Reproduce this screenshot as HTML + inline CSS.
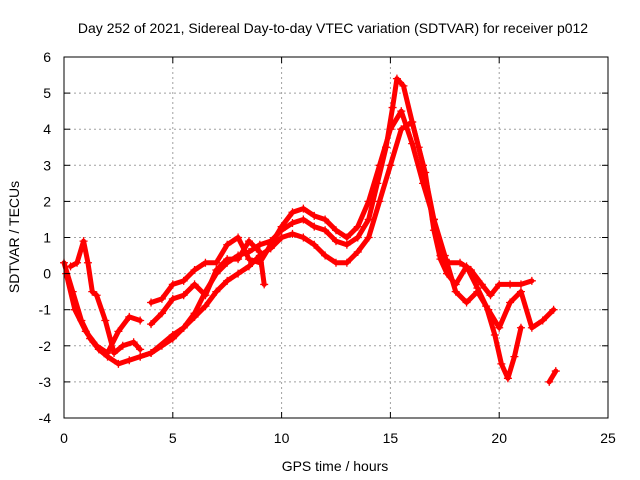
<!DOCTYPE html>
<html><head><meta charset="utf-8"><style>
body{margin:0;background:#fff;}
svg{display:block;font-family:"Liberation Sans",sans-serif;}
</style></head><body>
<svg id="chart" width="640" height="480" viewBox="0 0 640 480" xmlns="http://www.w3.org/2000/svg">
<rect width="640" height="480" fill="#fff"/>
<text x="333" y="33" font-size="14" text-anchor="middle">Day 252 of 2021, Sidereal Day-to-day VTEC variation (SDTVAR) for receiver p012</text>
<g id="grid"></g>
<g id="series"></g>
<rect x="64" y="57" width="544" height="361" fill="none" stroke="#000" stroke-width="1"/>
<g id="ticks"></g>
<text x="335" y="471" font-size="14" text-anchor="middle">GPS time / hours</text>
<text x="0" y="0" font-size="14" text-anchor="middle" transform="translate(19,237) rotate(-90)">SDTVAR / TECUs</text>
</svg>
<script>
const xTicks=[0,5,10,15,20,25];
const yTicks=[-4,-3,-2,-1,0,1,2,3,4,5,6];
const trackA=[[0,0.3],[0.4,-0.5],[0.8,-1.3],[1.2,-1.8],[1.6,-2.1],[2,-2.3],[2.5,-2.5],[3,-2.4],[3.5,-2.3],[4,-2.2],[4.5,-2.0],[5,-1.8],[5.5,-1.5],[6,-1.1],[6.5,-0.5],[7,0],[7.5,0.3],[8,0.5],[8.5,0.6],[9,0.8],[9.5,0.9],[10,1.2],[10.5,1.4],[11,1.5],[11.5,1.3],[12,1.2],[12.5,0.9],[13,0.8],[13.5,1.0],[14,1.5],[14.4,2.5],[14.8,3.5],[15.1,4.6],[15.3,5.4],[15.6,5.2],[16,4.2],[16.3,3.5],[16.6,2.8],[17,1.2],[17.3,0.4],[17.6,0],[18,-0.3],[18.5,0.2],[19,-0.4],[19.4,-0.9],[19.8,-1.7],[20.1,-2.5],[20.4,-2.9],[20.7,-2.3],[21,-1.5]];
const trackB=[[0.1,0],[0.5,-1],[1,-1.6],[1.5,-2.0],[2,-2.2],[2.5,-1.6],[3,-1.2],[3.5,-1.3]];
const trackC=[[0.3,0.2],[0.6,0.3],[0.9,0.9],[1.1,0.3],[1.3,-0.5],[1.5,-0.6],[1.9,-1.3],[2.3,-2.2],[2.7,-2.0],[3.2,-1.9],[3.5,-2.1]];
const trackD=[[4,-0.8],[4.5,-0.7],[5,-0.3],[5.5,-0.2],[6,0.1],[6.5,0.3],[7,0.3],[7.5,0.8],[8,1.0],[8.5,0.4],[9,0.3],[9.5,0.8],[10,1.3],[10.5,1.7],[11,1.8],[11.5,1.6],[12,1.5],[12.5,1.2],[13,1.0],[13.5,1.3],[14,2.0],[14.5,3.0],[15,4.0],[15.5,4.5],[16,3.6],[16.5,2.5],[17,1.5],[17.3,0.5],[17.7,0.3],[18.2,0.3],[18.7,0.1],[19.2,-0.3],[19.6,-0.6],[20,-0.3],[20.5,-0.3],[21,-0.3],[21.5,-0.2]];
const trackE=[[3.5,-2.3],[4,-2.2],[5,-1.7],[5.5,-1.5],[6,-1.2],[6.5,-0.9],[7,-0.5],[7.5,-0.2],[8,0],[8.5,0.2],[9,0.5],[9.5,0.7],[10,1.0],[10.5,1.1],[11,1.0],[11.5,0.8],[12,0.5],[12.5,0.3],[13,0.3],[13.5,0.6],[14,1.0],[14.5,2.0],[15,3.0],[15.5,4.0],[16,4.2],[16.5,3.0],[17,1.5],[17.5,0.5],[18,-0.5],[18.5,-0.8],[19,-0.5],[19.5,-1.0],[20,-1.5],[20.5,-0.8],[21,-0.5],[21.5,-1.5],[22,-1.3],[22.5,-1.0]];
const trackF=[[4,-1.4],[4.5,-1.1],[5,-0.7],[5.5,-0.6],[6,-0.3],[6.5,-0.6],[7,0.1],[7.5,0.4],[8,0.4],[8.5,0.9],[9,0.6],[9.2,-0.3]];
const trackG=[[22.3,-3.0],[22.6,-2.7]];
const tracks=[trackA,trackB,trackC,trackD,trackE,trackF,trackG];
const X0=64,X1=608,Y0=418,Y1=57;
const sx=v=>X0+(v-0)/(25-0)*(X1-X0);
const sy=v=>Y0-(v+4)/(6+4)*(Y0-Y1);
const NS="http://www.w3.org/2000/svg";
const grid=document.getElementById('grid'),ticks=document.getElementById('ticks'),ser=document.getElementById('series');
function mk(tag,attrs,parent){const e=document.createElementNS(NS,tag);for(const k in attrs)e.setAttribute(k,attrs[k]);parent.appendChild(e);return e;}
xTicks.forEach(t=>{const x=sx(t);
 if(t>0&&t<25){const g=mk('line',{x1:x,x2:x,y1:Y1,y2:Y0,stroke:'#a0a0a0','stroke-dasharray':'2,3'},grid);}
 const l=mk('line',{x1:x,x2:x,y1:Y0,y2:Y0-6,stroke:'#000'},ticks);
 const l2=mk('line',{x1:x,x2:x,y1:Y1,y2:Y1+6,stroke:'#000'},ticks);
 const tx=mk('text',{x:x,y:443,'font-size':14,'text-anchor':'middle'},ticks);tx.textContent=t;});
yTicks.forEach(t=>{const y=sy(t);
 if(t>-4&&t<6){const g=mk('line',{x1:X0,x2:X1,y1:y,y2:y,stroke:'#a0a0a0','stroke-dasharray':'2,3'},grid);}
 const l=mk('line',{x1:X0,x2:X0+6,y1:y,y2:y,stroke:'#000'},ticks);
 const l2=mk('line',{x1:X1,x2:X1-6,y1:y,y2:y,stroke:'#000'},ticks);
 const tx=mk('text',{x:51,y:y+5,'font-size':14,'text-anchor':'end'},ticks);tx.textContent=t;});
tracks.forEach(tr=>{
 const p=mk('polyline',{points:tr.map(d=>sx(d[0])+','+sy(d[1])).join(' '),fill:'none',stroke:'#f00','stroke-width':5,'stroke-linejoin':'round','stroke-linecap':'round'},ser);
 
 
 tr.forEach(d=>{const x=sx(d[0]),y=sy(d[1]);
  const m=mk('path',{d:`M${x-4},${y}h8M${x},${y-4}v8`,stroke:'#f00','stroke-width':1.3},ser);
  
  });
});
</script>
</body></html>
